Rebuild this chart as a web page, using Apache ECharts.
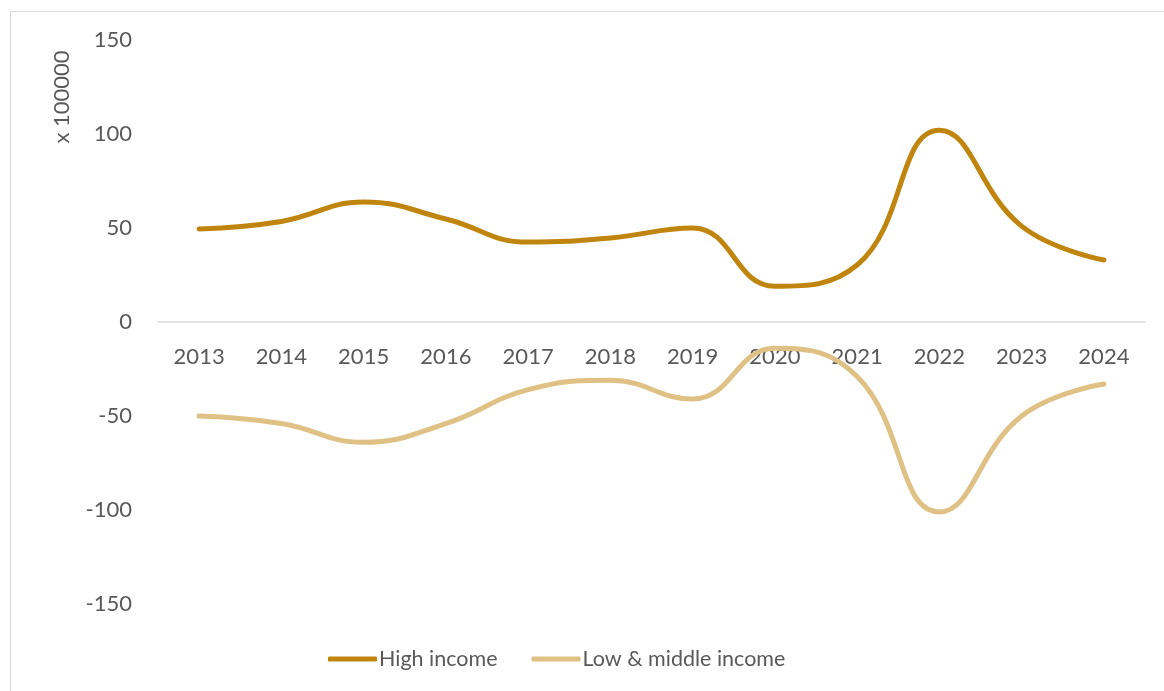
<!DOCTYPE html>
<html>
<head>
<meta charset="utf-8">
<script src="https://cdn.jsdelivr.net/npm/echarts@6/dist/echarts.min.js"></script>
<style>
html,body{margin:0;padding:0;background:#fff;}
#frame{position:absolute;left:10px;top:11px;width:1200px;height:720px;border:1.5px solid #d9d9d9;box-sizing:border-box;}
#chart{position:absolute;left:0;top:0;width:1164px;height:691px;}
</style>
</head>
<body>
<div id="frame"></div>
<div id="chart"></div>
<script>
const years = ['2013','2014','2015','2016','2017','2018','2019','2020','2021','2022','2023','2024'];
const highIncome = [49.5, 53.5, 63.8, 54.8, 42.5, 44.7, 50, 19, 30.3, 102, 51, 33];
const lowMiddleIncome = [-50, -54, -64, -54, -36, -31, -41, -14, -29, -101, -50, -33];
const yTicks = {min: -150, max: 150, interval: 50};
const seriesNames = ['High income', 'Low & middle income'];
const axisTitle = 'x 100000';

const FONT = 'Lato';
const TXT = '#595959';
const GRID_TOP = 40, GRID_BOTTOM = 87, H = 691;
const plotH = H - GRID_TOP - GRID_BOTTOM;
const zeroOffset = -plotH * (0 - yTicks.min) / (yTicks.max - yTicks.min);

const chart = echarts.init(document.getElementById('chart'), null, {renderer: 'canvas'});
chart.setOption({
  animation: false,
  backgroundColor: 'transparent',
  textStyle: {fontFamily: FONT},
  grid: {left: 158, right: 19, top: GRID_TOP, bottom: GRID_BOTTOM, containLabel: false},
  legend: {
    bottom: 16,
    left: 323,
    itemWidth: 49,
    itemHeight: 5,
    itemGap: 34,
    textStyle: {color: TXT, fontSize: 21.5, fontFamily: FONT, padding: [0,0,0,-3]},
    icon: 'roundRect',
    data: seriesNames
  },
  graphic: [{
    type: 'text',
    x: 62, y: 97,
    rotation: Math.PI / 2,
    style: {text: axisTitle, fill: TXT, font: '22px ' + FONT, textAlign: 'center', textVerticalAlign: 'middle'}
  }],
  xAxis: {
    type: 'category',
    data: years,
    boundaryGap: true,
    position: 'bottom',
    offset: zeroOffset,
    axisLine: {onZero: false, lineStyle: {color: '#d9d9d9', width: 1.5}},
    axisTick: {show: false},
    axisLabel: {color: TXT, fontSize: 22, fontFamily: FONT, margin: 24}
  },
  yAxis: {
    type: 'value',
    min: yTicks.min, max: yTicks.max, interval: yTicks.interval,
    axisLine: {show: false},
    axisTick: {show: false},
    splitLine: {show: false},
    axisLabel: {color: TXT, fontSize: 22, fontFamily: FONT, margin: 26}
  },
  series: [
    {
      name: seriesNames[0], type: 'line', data: highIncome, smooth: 0.45,
      showSymbol: false, symbol: 'none',
      lineStyle: {color: '#C0850F', width: 5, cap: 'round'},
      itemStyle: {color: '#C0850F'}
    },
    {
      name: seriesNames[1], type: 'line', data: lowMiddleIncome, smooth: 0.45,
      showSymbol: false, symbol: 'none',
      lineStyle: {color: '#E0C185', width: 5, cap: 'round'},
      itemStyle: {color: '#E0C185'}
    }
  ]
});
</script>
</body>
</html>
